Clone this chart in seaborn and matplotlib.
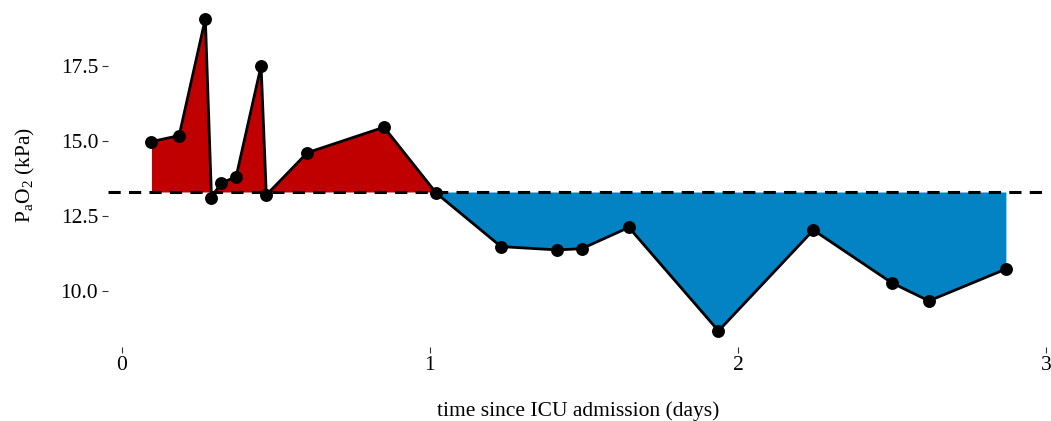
import numpy as np
import pandas as pd
import matplotlib
matplotlib.use("Agg")
import matplotlib.pyplot as plt
import seaborn as sns

# data
time_days = [0.096, 0.186, 0.271, 0.291, 0.321, 0.371, 0.452, 0.469, 0.602, 0.851,
             1.021, 1.231, 1.413, 1.493, 1.646, 1.937, 2.245, 2.500, 2.620, 2.870]
pao2 = [14.98, 15.18, 19.08, 13.09, 13.59, 13.81, 17.51, 13.20, 14.61, 15.46,
        13.26, 11.48, 11.37, 11.41, 12.12, 8.67, 12.03, 10.27, 9.67, 10.73]
threshold = 13.3
x_ticks = [0, 1, 2, 3]
y_ticks = [10.0, 12.5, 15.0, 17.5]

sns.set_theme(style="white")
plt.rcParams['font.family'] = ['Liberation Serif', 'DejaVu Serif']
plt.rcParams['mathtext.fontset'] = 'custom'
plt.rcParams['mathtext.rm'] = 'Liberation Serif'

df = pd.DataFrame({"t": time_days, "y": pao2})
x = np.array(time_days)
y = np.array(pao2)

fig = plt.figure(figsize=(10.51, 4.21), dpi=100)
ax = fig.add_axes([108/1051, (421-346.5)/421, (1049-108)/1051, (346.5-3)/421])

split = 10  # index of point where curve crosses threshold (~day 1)
xr, yr = x[:split+1], y[:split+1]
xb, yb = x[split:], y[split:]
ax.fill_between(xr, threshold, np.maximum(yr, threshold), color="#c00000", linewidth=0, zorder=1)
ax.fill_between(xb, np.minimum(yb, threshold), threshold, color="#0383c4", linewidth=0, zorder=1)

ax.axhline(threshold, color="black", linestyle=(0, (4, 2.7)), linewidth=2.2, zorder=2)

sns.lineplot(data=df, x="t", y="y", ax=ax, color="black", linewidth=2.0,
             marker="o", markersize=9.3, markeredgewidth=0, zorder=3, sort=False)

ax.set_xlim(-0.045, 3.01)
ax.set_ylim(8.15, 19.6)
ax.set_xticks(x_ticks)
ax.set_xticklabels([str(v) for v in x_ticks])
ax.set_yticks(y_ticks)
ax.set_yticklabels([f"{v:.1f}" for v in y_ticks])
for s in ax.spines.values():
    s.set_visible(False)
ax.tick_params(axis="both", which="both", length=4, width=0.8, color="#333333",
               labelsize=15.5, labelcolor="black", pad=3, left=True, bottom=True)
ax.set_xlabel("time since ICU admission (days)", fontsize=15.5, labelpad=19, color="black")
ax.set_ylabel(r"$\mathregular{P_aO_2}$ (kPa)", fontsize=15.5, labelpad=17, color="black")
ax.grid(False)

fig.savefig("out.png", dpi=100)
